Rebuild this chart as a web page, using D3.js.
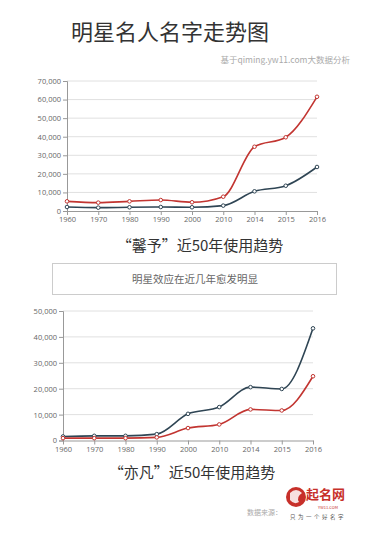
<!DOCTYPE html>
<html><head><meta charset="utf-8">
<script src="https://cdn.jsdelivr.net/npm/d3@7"></script>
<style>
html,body{margin:0;padding:0;background:#fff;}
svg{display:block;font-family:"Noto Sans CJK SC","Noto Sans",sans-serif;}
</style></head>
<body>
<svg id="c" width="380" height="534"></svg>
<script>
const years = ["1960","1970","1980","1990","2000","2010","2014","2015","2016"];
// 馨予
const xinyuRed  = [5200,4500,5200,5900,4700,7700,34600,39700,61500];
const xinyuDark = [2150,1800,2000,2150,2000,2900,10600,13600,23700];
const xinyuTicks = [0,10000,20000,30000,40000,50000,60000,70000];
// 亦凡
const yifanDark = [1550,1800,1800,2450,10300,12900,20600,19900,43300];
const yifanRed  = [900,900,900,1200,4800,6200,12000,11600,24800];
const yifanTicks = [0,10000,20000,30000,40000,50000];

const RED = "#c23531", DARK = "#2f4554";
const svg = d3.select("#c");

svg.append("text").attr("x",170).attr("y",40).attr("text-anchor","middle")
  .attr("font-size",22).attr("fill","#333").text("明星名人名字走势图");
svg.append("text").attr("x",350).attr("y",63).attr("text-anchor","end")
  .attr("font-size",8.5).attr("fill","#aaa").text("基于qiming.yw11.com大数据分析");

function chart(cfg){
  const x = d3.scalePoint().domain(years).range([cfg.x0, cfg.x1]);
  const y = d3.scaleLinear().domain([0, cfg.ticks[cfg.ticks.length-1]]).range([cfg.y0, cfg.y1]);
  const g = svg.append("g");
  g.selectAll("line.grid").data(cfg.ticks.slice(1)).join("line")
    .attr("x1",cfg.x0).attr("x2",cfg.x1).attr("y1",d=>y(d)).attr("y2",d=>y(d))
    .attr("stroke","#e0e0e0").attr("stroke-width",1);
  const ya = d3.axisLeft(y).tickValues(cfg.ticks).tickSize(4).tickPadding(2).tickFormat(d3.format(","));
  const ga = g.append("g").attr("transform",`translate(${cfg.x0},0)`).call(ya);
  ga.select(".domain").attr("stroke","#999");
  ga.selectAll(".tick line").attr("stroke","#999");
  ga.selectAll("text").attr("font-size",7.5).attr("fill","#666").attr("font-family","'Open Sans','Noto Sans',sans-serif");
  const xa = d3.axisBottom(x).tickSize(4).tickPadding(2).tickSizeOuter(0);
  const gx = g.append("g").attr("transform",`translate(0,${cfg.y0})`).call(xa);
  gx.select(".domain").attr("stroke","#999");
  gx.selectAll(".tick line").attr("stroke","#999");
  gx.selectAll("text").attr("font-size",7.5).attr("fill","#666").attr("font-family","'Open Sans','Noto Sans',sans-serif");
  const line = d3.line().x((d,i)=>x(years[i])).y(d=>y(d)).curve(d3.curveMonotoneX);
  cfg.series.forEach(s=>{
    g.append("path").datum(s.values).attr("d",line).attr("fill","none")
      .attr("stroke",s.color).attr("stroke-width",1.6);
    g.selectAll(null).data(s.values).join("circle")
      .attr("cx",(d,i)=>x(years[i])).attr("cy",d=>y(d)).attr("r",1.8)
      .attr("fill","#fff").attr("stroke",s.color).attr("stroke-width",1);
  });
  svg.append("text").attr("x",cfg.tx).attr("y",cfg.ty).attr("text-anchor","middle")
    .attr("font-size",15).attr("fill","#333").text(cfg.title);
}

chart({x0:67,x1:317,y0:211,y1:81,ticks:xinyuTicks,
  series:[{values:xinyuDark,color:DARK},{values:xinyuRed,color:RED}],
  title:"“馨予”近50年使用趋势",tx:200,ty:251});

svg.append("rect").attr("x",52.5).attr("y",263.5).attr("width",284).attr("height",31)
  .attr("fill","#fff").attr("stroke","#ccc");
svg.append("text").attr("x",195).attr("y",283).attr("text-anchor","middle")
  .attr("font-size",10.5).attr("fill","#666").text("明星效应在近几年愈发明显");

chart({x0:63,x1:313,y0:440.5,y1:311,ticks:yifanTicks,
  series:[{values:yifanDark,color:DARK},{values:yifanRed,color:RED}],
  title:"“亦凡”近50年使用趋势",tx:192,ty:478});

// footer / logo
svg.append("text").attr("x",282).attr("y",515).attr("text-anchor","end")
  .attr("font-size",7).attr("fill","#aaa").text("数据来源：");
const lg = svg.append("g");
lg.append("circle").attr("cx",296).attr("cy",497).attr("r",10).attr("fill","#c7302a");
lg.append("path").attr("d","M290,493 q6,-6 12,0 q-6,4 -3,9 q-5,3 -9,-2z").attr("fill","#fff").attr("opacity",0.85);
lg.append("text").attr("x",306).attr("y",499).attr("font-size",13).attr("font-weight","bold")
  .attr("fill","#c7302a").text("起名网");
lg.append("text").attr("x",328).attr("y",509).attr("text-anchor","middle").attr("font-size",4)
  .attr("fill","#c7302a").text("YW11.COM");
lg.append("text").attr("x",290).attr("y",519).attr("font-size",5.5).attr("fill","#555")
  .attr("letter-spacing",2.5).text("只为一个好名字");
</script>
</body></html>
